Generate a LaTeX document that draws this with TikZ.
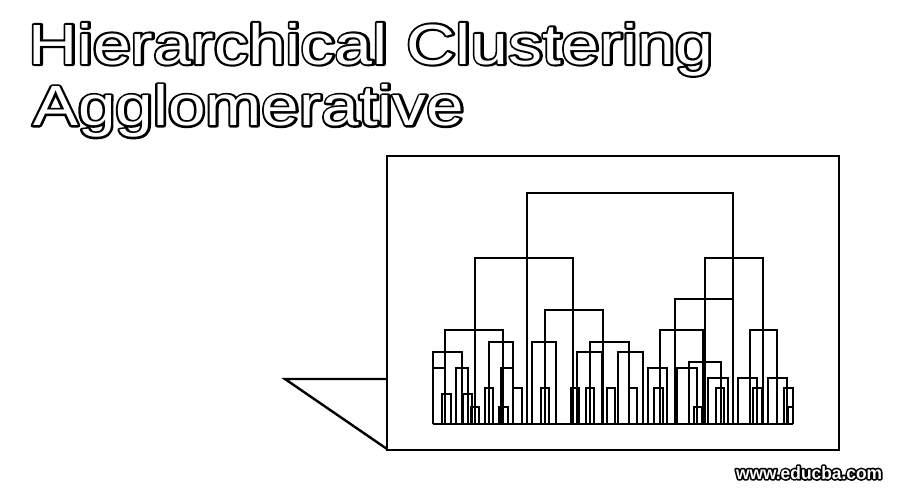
\documentclass[tikz,border=0pt]{standalone}
\usepackage{fontspec}
\usepackage{graphicx}
\newfontfamily\ttlfont{Liberation Sans}
\newcommand\strk[2]{\special{pdf:literal direct 2 Tr #1 w 1 j}#2\special{pdf:literal direct 0 Tr}}
\tikzset{
  dline/.style={line width=1pt, black},
  framel/.style={line width=1.2pt, black},
  ttl/.style={anchor=base west, inner sep=0pt, outer sep=0pt, font={\ttlfont\fontsize{28.35}{34}\selectfont}},
  wm/.style={anchor=base west, inner sep=0pt, outer sep=0pt, font={\ttlfont\bfseries\fontsize{9}{11}\selectfont}}
}
\begin{document}
\begin{tikzpicture}[x=0.5pt, y=-0.5pt]
\useasboundingbox[fill=white] (0,0) rectangle (900,500);
% title line 1 (black stroked layer, then white layer)
\node[ttl, text=black] (title1s) at (28.8,64) {\scalebox{1.2}[1]{\strk{2.1}{Hierarchical Clustering}}};
\node[ttl, text=white] (title1) at (28.8,64) {\scalebox{1.2}[1]{Hierarchical Clustering}};
% title line 2
\node[ttl, text=black] (title2s) at (33,125.5) {\scalebox{1.19}[1]{\strk{2.1}{Agglomerative}}};
\node[ttl, text=white] (title2) at (33,125.5) {\scalebox{1.19}[1]{Agglomerative}};
% watermark
\node[wm, text=black] (wmarks) at (736,479) {\scalebox{0.965}[1]{\strk{1.7}{www.educba.com}}};
\node[wm, text=white] (wmark) at (736,479) {\scalebox{0.965}[1]{www.educba.com}};
% frame and fold
\draw[framel] (387,156) rectangle (839,450);
\draw[framel] (387,379) -- (285,379) -- (387,449);
% dendrogram
\begin{scope}[shift={(380,150)}, x=0.166667pt, y=-0.166667pt]
\foreach \xa/\xb/\yy in {440/1058/128, 285/578/323, 975/1148/323, 885/1058/447,
  495/668/480, 195/370/540, 840/968/540, 1110/1190/540, 327/400/575, 456/528/575,
  630/748/575, 160/247/605, 590/665/605, 715/790/605, 928/1023/635, 160/195/653,
  227/265/653, 362/398/653, 803/862/653, 890/950/653, 985/1043/683, 1075/1132/683,
  1163/1222/683, 315/340/715, 400/427/715, 483/508/715, 572/598/715, 617/643/715,
  680/706/715, 748/772/715, 823/850/715, 1007/1033/715, 1118/1145/715, 1213/1240/715,
  185/212/732, 250/277/732, 272/297/770, 357/383/770, 942/965/770, 1225/1240/770} {
  \draw[dline] (\xa,822) |- (\xb,\yy) -- (\xb,822);
}
\draw[dline] (158,822) -- (1240,822);
\end{scope}
\end{tikzpicture}
\end{document}
